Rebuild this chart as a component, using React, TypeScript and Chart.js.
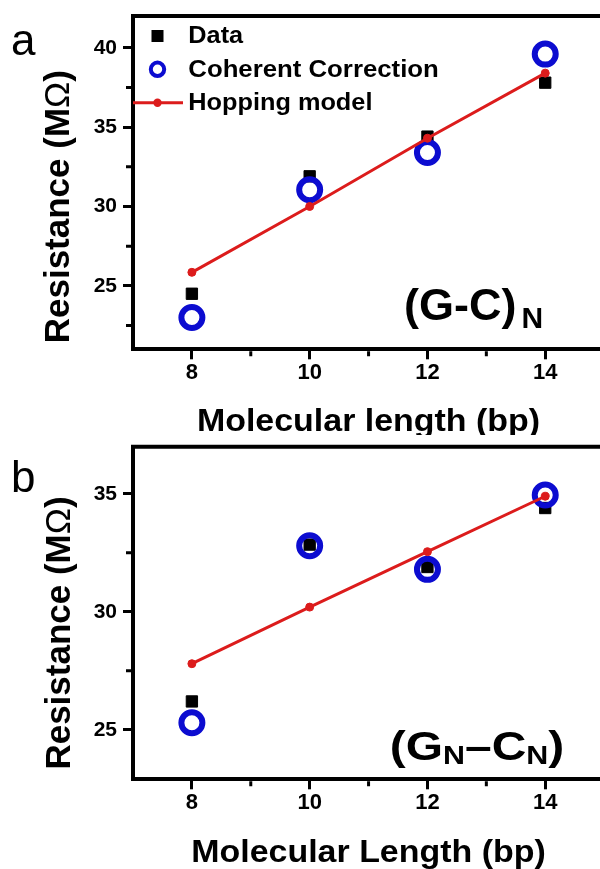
import React, { useEffect, useRef } from 'react';
import { Chart, registerables } from 'chart.js';

Chart.register(...registerables);

// Molecular length (bp) shared by both panels
const lengthsBp = [8, 10, 12, 14];

// Panel a: (G-C)N sequences
const gcMeasured = [24.5, 31.9, 34.4, 37.8];
const gcCoherent = [23.0, 31.05, 33.4, 39.6];
const gcHopping = [25.85, 30.0, 34.3, 38.4];

// Panel b: (GN-CN) sequences
const gnMeasured = [26.2, 32.85, 31.9, 34.4];
const gnCoherent = [25.3, 32.8, 31.8, 34.95];
const gnHopping = [27.8, 30.2, 32.55, 34.9];

// Axis ticks
const xMajorTicks = [8, 10, 12, 14];
const xMinorTicks = [9, 11, 13];
const aYMajorTicks = [25, 30, 35, 40];
const aYMinorTicks = [22.5, 27.5, 32.5, 37.5];
const bYMajorTicks = [25, 30, 35];
const bYMinorTicks = [27.5, 32.5];

const seriesLabels = ['Data', 'Coherent Correction', 'Hopping model'];

// visible x window (the frame continues past the right edge of the page)
const X_MIN = 7;
const X_MAX = 14.93;

const FONT = '"Liberation Sans", Arial, Helvetica, sans-serif';
const BLUE = '#0c0cd0';
const RED = '#dc1c1c';
const CANVAS_W = 600;
const AREA_LEFT = 133;

Chart.defaults.font.family = FONT;

type Seg = { text: string; size: number; weight?: string; dx?: number; dy?: number };

function drawRun(
  ctx: CanvasRenderingContext2D,
  segs: Seg[],
  x: number,
  y: number,
  sx = 1,
  align: 'left' | 'center' = 'left',
  rot = 0
) {
  ctx.save();
  ctx.translate(x, y);
  if (rot) ctx.rotate(rot);
  ctx.scale(sx, 1);
  ctx.fillStyle = '#000';
  ctx.textAlign = 'left';
  ctx.textBaseline = 'alphabetic';
  const fontOf = (s: Seg) => `${s.weight ?? 'bold'} ${s.size}px ${FONT}`;
  let total = 0;
  const widths = segs.map((s) => {
    ctx.font = fontOf(s);
    const w = ctx.measureText(s.text).width + (s.dx ?? 0);
    total += w;
    return w;
  });
  let cx = align === 'center' ? -total / 2 : 0;
  segs.forEach((s, i) => {
    ctx.font = fontOf(s);
    ctx.fillText(s.text, cx + (s.dx ?? 0), s.dy ?? 0);
    cx += widths[i];
  });
  ctx.restore();
}

type PanelSpec = {
  letter: string;
  letterY: number;
  canvasH: number;
  areaTop: number;
  areaBottom: number;
  yMin: number;
  yMax: number;
  yMajor: number[];
  yMinor: number[];
  measured: number[];
  coherent: number[];
  hopping: number[];
  xTitle: string;
  xTitleY: number;
  yTitleX: number;
  yTitleY: number;
  tag: Seg[];
  tagX: number;
  tagY: number;
  tagSx: number;
  legend: boolean;
};

const panelA: PanelSpec = {
  letter: 'a',
  letterY: 55,
  canvasH: 435,
  areaTop: 16,
  areaBottom: 349.3,
  yMin: 21,
  yMax: 42,
  yMajor: aYMajorTicks,
  yMinor: aYMinorTicks,
  measured: gcMeasured,
  coherent: gcCoherent,
  hopping: gcHopping,
  xTitle: 'Molecular length (bp)',
  xTitleY: 430.7,
  yTitleX: 68.5,
  yTitleY: 206.7,
  tag: [
    { text: '(G-C)', size: 45 },
    { text: 'N', size: 30, dx: 5, dy: 8.3 },
  ],
  tagX: 404,
  tagY: 320,
  tagSx: 1,
  legend: true,
};

const panelB: PanelSpec = {
  letter: 'b',
  letterY: 56.7,
  canvasH: 434,
  areaTop: 11.7,
  areaBottom: 344.3,
  yMin: 22.9,
  yMax: 37,
  yMajor: bYMajorTicks,
  yMinor: bYMinorTicks,
  measured: gnMeasured,
  coherent: gnCoherent,
  hopping: gnHopping,
  xTitle: 'Molecular Length (bp)',
  xTitleY: 426.7,
  yTitleX: 70,
  yTitleY: 198,
  tag: [
    { text: '(G', size: 41 },
    { text: 'N', size: 26, dy: 4 },
    { text: '\u2013C', size: 41 },
    { text: 'N', size: 26, dy: 4 },
    { text: ')', size: 41 },
  ],
  tagX: 389.7,
  tagY: 325,
  tagSx: 1.17,
  legend: false,
};

const toPoints = (ys: number[]) => lengthsBp.map((x, i) => ({ x, y: ys[i] }));

function decorPlugin(p: PanelSpec) {
  return {
    id: 'decor',
    afterDraw(chart: any) {
      const ctx: CanvasRenderingContext2D = chart.ctx;
      const { left, right, top, bottom } = chart.chartArea;
      const xs = chart.scales.x;
      const ys = chart.scales.y;

      ctx.save();
      ctx.strokeStyle = '#000';
      ctx.lineCap = 'butt';

      // frame: top side (right side lies beyond the page edge)
      ctx.lineWidth = 4;
      ctx.beginPath();
      ctx.moveTo(left - 2, top);
      ctx.lineTo(right, top);
      ctx.stroke();

      // minor ticks
      ctx.lineWidth = 3;
      ctx.beginPath();
      xMinorTicks.forEach((v) => {
        const px = xs.getPixelForValue(v);
        ctx.moveTo(px, bottom + 2);
        ctx.lineTo(px, bottom + 7);
      });
      p.yMinor.forEach((v) => {
        const py = ys.getPixelForValue(v);
        ctx.moveTo(left - 2, py);
        ctx.lineTo(left - 7, py);
      });
      ctx.stroke();
      ctx.restore();

      // panel letter
      drawRun(ctx, [{ text: p.letter, size: 44, weight: 'normal' }], 11, p.letterY);

      // axis titles
      drawRun(ctx, [{ text: p.xTitle, size: 31 }], 368.5, p.xTitleY, 1.095, 'center');
      drawRun(
        ctx,
        [
          { text: 'Resistance (M', size: 35 },
          { text: '\u03A9', size: 35, weight: 'normal' },
          { text: ')', size: 35 },
        ],
        p.yTitleX,
        p.yTitleY,
        1,
        'center',
        -Math.PI / 2
      );

      // sequence tag
      drawRun(ctx, p.tag, p.tagX, p.tagY, p.tagSx);

      if (p.legend) {
        const ds = chart.data.datasets;
        const mx = 157.5;
        const tx = 188.3;
        ctx.save();
        // measured: filled square
        ctx.fillStyle = ds[0].pointBackgroundColor;
        ctx.fillRect(mx - 6, 36 - 6, 12, 12);
        // coherent: open circle
        ctx.strokeStyle = ds[1].pointBorderColor;
        ctx.lineWidth = 4;
        ctx.beginPath();
        ctx.arc(mx, 69.3, 6.7, 0, Math.PI * 2);
        ctx.stroke();
        // hopping: line with dot
        ctx.strokeStyle = ds[2].borderColor;
        ctx.lineWidth = 3;
        ctx.beginPath();
        ctx.moveTo(left, 102.7);
        ctx.lineTo(183, 102.7);
        ctx.stroke();
        ctx.fillStyle = ds[2].pointBackgroundColor;
        ctx.beginPath();
        ctx.arc(mx, 102.7, 4.2, 0, Math.PI * 2);
        ctx.fill();
        ctx.restore();
        drawRun(ctx, [{ text: ds[0].label, size: 23 }], tx, 43.3, 1.1);
        drawRun(ctx, [{ text: ds[1].label, size: 23 }], tx, 76.7, 1.12);
        drawRun(ctx, [{ text: ds[2].label, size: 23 }], tx, 110, 1.1);
      }
    },
  };
}

function zeroPadding(s: any) {
  s.paddingLeft = 0;
  s.paddingRight = 0;
  s.paddingTop = 0;
  s.paddingBottom = 0;
}

function panelConfig(p: PanelSpec): any {
  return {
    type: 'scatter',
    data: {
      datasets: [
        {
          label: seriesLabels[0],
          data: toPoints(p.measured),
          pointStyle: 'rect',
          pointRadius: 8,
          pointBackgroundColor: '#000',
          pointBorderColor: '#000',
          pointBorderWidth: 1,
          showLine: false,
          order: 3,
        },
        {
          label: seriesLabels[1],
          data: toPoints(p.coherent),
          pointStyle: 'circle',
          pointRadius: 10.5,
          pointBorderWidth: 6,
          pointBorderColor: BLUE,
          pointBackgroundColor: 'rgba(0,0,0,0)',
          showLine: false,
          order: 2,
        },
        {
          label: seriesLabels[2],
          data: toPoints(p.hopping),
          pointStyle: 'circle',
          pointRadius: 4,
          pointBackgroundColor: RED,
          pointBorderColor: RED,
          pointBorderWidth: 1,
          showLine: true,
          borderColor: RED,
          borderWidth: 3,
          tension: 0,
          order: 1,
        },
      ],
    },
    options: {
      responsive: false,
      animation: false,
      events: [],
      layout: {
        autoPadding: false,
        padding: { top: p.areaTop, right: 0, left: 0, bottom: 0 },
      },
      plugins: { legend: { display: false }, tooltip: { enabled: false }, title: { display: false } },
      scales: {
        x: {
          type: 'linear',
          min: X_MIN,
          max: X_MAX,
          afterBuildTicks: (s: any) => {
            s.ticks = xMajorTicks.map((value) => ({ value }));
          },
          afterFit: (s: any) => {
            s.height = p.canvasH - p.areaBottom;
            zeroPadding(s);
          },
          ticks: {
            color: '#000',
            font: { size: 22, weight: 'bold', family: FONT },
            padding: 0,
            maxRotation: 0,
            autoSkip: false,
          },
          grid: {
            drawOnChartArea: false,
            drawTicks: true,
            tickLength: 10,
            color: '#000',
            lineWidth: 3,
          },
          border: { display: true, color: '#000', width: 4 },
        },
        y: {
          type: 'linear',
          min: p.yMin,
          max: p.yMax,
          afterBuildTicks: (s: any) => {
            s.ticks = p.yMajor.map((value) => ({ value }));
          },
          afterFit: (s: any) => {
            s.width = AREA_LEFT;
            zeroPadding(s);
          },
          ticks: {
            color: '#000',
            font: { size: 21, weight: 'bold', family: FONT },
            padding: 6,
            autoSkip: false,
          },
          grid: {
            drawOnChartArea: false,
            drawTicks: true,
            tickLength: 10,
            color: '#000',
            lineWidth: 3,
          },
          border: { display: true, color: '#000', width: 4 },
        },
      },
    },
    plugins: [decorPlugin(p)],
  };
}

function Panel({ spec, top }: { spec: PanelSpec; top: number }) {
  const ref = useRef<HTMLCanvasElement>(null);
  useEffect(() => {
    if (!ref.current) return;
    const chart = new Chart(ref.current, panelConfig(spec));
    return () => chart.destroy();
  }, [spec]);
  return (
    <canvas
      ref={ref}
      width={CANVAS_W}
      height={spec.canvasH}
      style={{ position: 'absolute', left: 0, top, display: 'block' }}
    />
  );
}

export default function App() {
  return (
    <div
      style={{
        position: 'absolute',
        left: 0,
        top: 0,
        width: 600,
        height: 869,
        overflow: 'hidden',
        background: '#fff',
      }}
    >
      <Panel spec={panelA} top={0} />
      <Panel spec={panelB} top={435} />
    </div>
  );
}
